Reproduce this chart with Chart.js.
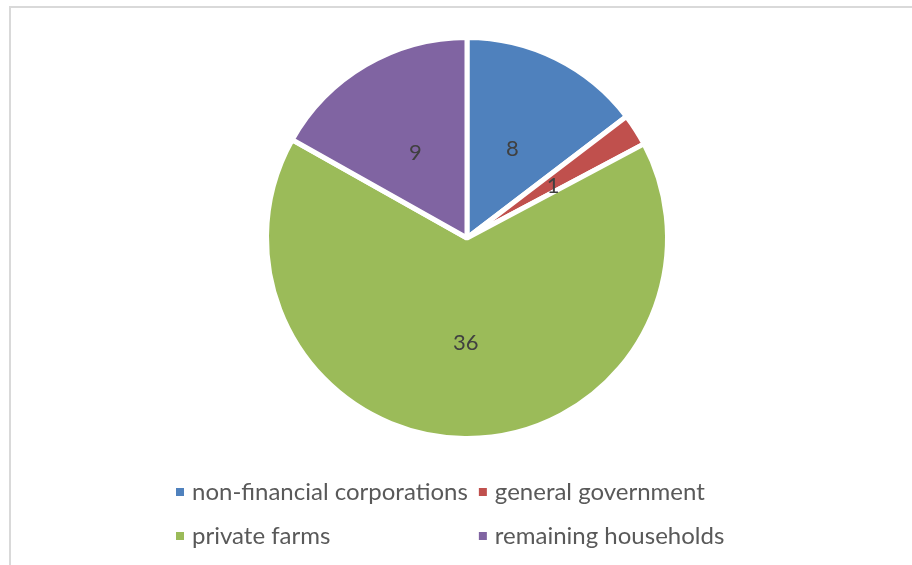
<!DOCTYPE html>
<html>
<head>
<meta charset="utf-8">
<script src="https://cdn.jsdelivr.net/npm/chart.js@4"></script>
<style>
  body { margin: 0; background: #fff; }
  #wrap { position: relative; width: 912px; height: 565px; }
  #frame { position: absolute; left: 9px; top: 6px; right: 0; bottom: 0;
           border-top: 2px solid #d9d9d9; border-left: 2px solid #d9d9d9; }
  canvas { position: absolute; left: 0; top: 0; }
</style>
</head>
<body>
<div id="wrap">
  <div id="frame"></div>
  <canvas id="myChart" width="912" height="565"></canvas>
</div>
<script>
const labels = ['non-financial corporations', 'general government', 'private farms', 'remaining households'];
const values = [7.9, 1.4, 35.6, 9.1];
const colors = ['#4F81BD', '#C0504D', '#9BBB59', '#8064A2'];

// value labels inside the slices
const sliceLabels = {
  id: 'sliceLabels',
  afterDatasetsDraw(chart) {
    const ctx = chart.ctx;
    const meta = chart.getDatasetMeta(0);
    ctx.save();
    ctx.font = '22px Lato';
    ctx.fillStyle = '#404040';
    ctx.textAlign = 'center';
    ctx.textBaseline = 'middle';
    meta.data.forEach((arc, i) => {
      const p = arc.getProps(['x', 'y', 'startAngle', 'endAngle', 'outerRadius']);
      const mid = (p.startAngle + p.endAngle) / 2;
      const r = p.outerRadius * 0.51;
      ctx.fillText(Math.round(values[i]), p.x + Math.cos(mid) * r, p.y + Math.sin(mid) * r + 3);
    });
    ctx.restore();
  }
};

// two column legend like the original
const gridLegend = {
  id: 'gridLegend',
  afterDraw(chart) {
    const ctx = chart.ctx;
    const startX = 176, rows = [492, 536], box = 8, gap = 8, colGap = 11;
    ctx.save();
    ctx.font = '24px Lato';
    ctx.textBaseline = 'middle';
    const col1 = Math.max(ctx.measureText(labels[0]).width, ctx.measureText(labels[2]).width);
    const cols = [startX, startX + box + gap + col1 + colGap];
    labels.forEach((lab, i) => {
      const x = cols[i % 2], y = rows[Math.floor(i / 2)];
      ctx.fillStyle = colors[i];
      ctx.fillRect(x, y - box / 2, box, box);
      ctx.fillStyle = '#595959';
      ctx.fillText(lab, x + box + gap, y);
    });
    ctx.restore();
  }
};

let ctx = document.getElementById('myChart').getContext('2d');
let chart = new Chart(ctx, {
  type: 'pie',
  data: {
    labels: labels,
    datasets: [
      {
        data: values,
        backgroundColor: colors,
        borderColor: '#ffffff',
        borderWidth: 5
      }
    ]
  },
  options: {
    responsive: false,
    animation: false,
    layout: { padding: { left: 60, right: 38, top: 35, bottom: 124 } },
    plugins: {
      legend: { display: false },
      tooltip: { enabled: false }
    }
  },
  plugins: [sliceLabels, gridLegend]
});
</script>
</body>
</html>
